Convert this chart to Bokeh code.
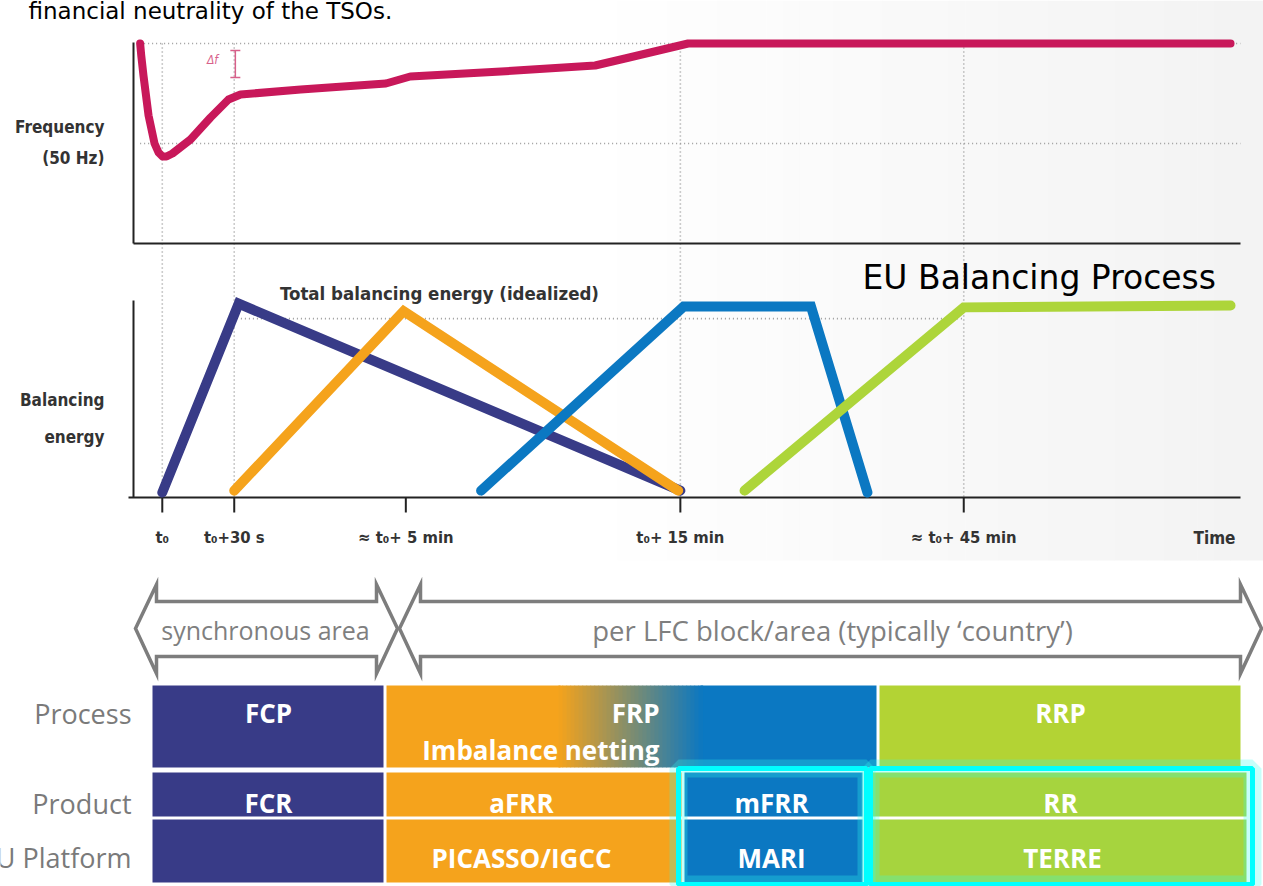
from bokeh.plotting import figure
from bokeh.models import Range1d
from bokeh.core.properties import value
from bokeh.embed import file_html
from bokeh.resources import INLINE
import numpy as np

# ---------------- data ----------------
# schematic time axis, in % of the axis length
tick_pos = [2.6, 9.1, 24.6, 49.4, 75.0]
tick_labels = ["t\u2080", "t\u2080+30 s", "\u2248 t\u2080+ 5 min", "t\u2080+ 15 min", "\u2248 t\u2080+ 45 min"]
grid_ticks = [2.6, 9.1, 49.4, 75.0]

# frequency (Hz)
freq_t = [0.6, 0.7, 0.9, 1.36, 1.9, 2.26, 2.62, 2.98, 3.52, 5.15, 6.96, 8.58, 9.67,
          15.1, 22.8, 25.0, 33.2, 41.7, 44.4, 50.1, 99.1]
freq_hz = [50.0, 49.976, 49.936, 49.856, 49.80, 49.782, 49.774, 49.774, 49.78, 49.808,
           49.852, 49.888, 49.898, 49.908, 49.92, 49.934, 49.944, 49.956, 49.97, 50.0, 50.0]
f_nominal = 50.0
f_min = 49.8

# balancing energy (% of total)
fcr_t = [2.6, 9.5, 49.4]
fcr_e = [0, 101, 1]
afrr_t = [9.1, 24.4, 49.2]
afrr_e = [1, 97, 1]
mfrr_t = [31.4, 49.7, 61.2, 66.3]
mfrr_e = [1, 99.5, 99.5, 0]
rr_t = [55.2, 75.0, 99.1]
rr_e = [1, 99, 100]
total_level = 93
total_span = [9.7, 75.0]

process_labels = ["FCP", "FRP", "Imbalance netting", "RRP"]
product_labels = ["FCR", "aFRR", "mFRR", "RR"]
platform_labels = ["", "PICASSO/IGCC", "MARI", "TERRE"]
row_labels = ["Process", "Product", "EU Platform"]

# ---------------- styles ----------------
NAVY = "#383b87"
ORANGE = "#f5a31c"
BLUE = "#0b78c2"
GREEN = "#b3d334"
CRIMSON = "#c8185a"
GREY = "#7f7f7f"
DARK = "#333333"
NARROW = value("DejaVu Sans Condensed, Liberation Sans, sans-serif")
OPEN = value("Open Sans")

W, H = 1263, 886
X0, X1 = 0, W
Y0, Y1 = H, 0


def lin_range(v1, p1, v2, p2, ps, pe):
    s = (v2 - v1) / (p2 - p1)
    return Range1d(start=v1 + (ps - p1) * s, end=v1 + (pe - p1) * s)


p = figure(width=W, height=H, x_range=Range1d(X0, X1), y_range=Range1d(Y0, Y1),
           output_backend="svg", toolbar_location=None, min_border=0,
           x_axis_type=None, y_axis_type=None, outline_line_color=None,
           background_fill_color="white")
p.grid.visible = False
p.extra_x_ranges = {"t": lin_range(0, 133, 100, 1240, X0, X1)}
p.extra_y_ranges = {"f": lin_range(50.0, 43, 49.8, 143, Y0, Y1),
                    "e": lin_range(0, 492, 100, 305, Y0, Y1)}

# subtle background shading of the chart area
n = 40
gx = np.linspace(600, W, n + 1)
gc = ["#%02x%02x%02x" % ((int(255 - 12 * i / n),) * 3) for i in range(n)]
p.quad(left=gx[:-1], right=gx[1:] + 0.5, top=0, bottom=560, fill_color=gc, line_color=None)

# title remnant (cut at the top edge, as in the source)
p.text(x=[28], y=[10], text=["financial neutrality of the TSOs."], text_font=value("DejaVu Sans"),
       text_font_size="23px", text_color="black", text_baseline="alphabetic")

# ---------------- frequency panel ----------------
dot = dict(line_color="#9a9a9a", line_dash="1 3", line_width=1.6)
p.segment(x0=grid_ticks, x1=grid_ticks, y0=43, y1=497, x_range_name="t", **dot)
p.segment(x0=[0.6, 0.6], x1=[100, 100], y0=[f_nominal, f_min], y1=[f_nominal, f_min],
          x_range_name="t", y_range_name="f", **dot)
p.segment(x0=[total_span[0]], x1=[total_span[1]], y0=[total_level], y1=[total_level],
          x_range_name="t", y_range_name="e", **dot)

# axes
ax = dict(line_color="#222222", line_width=2)
p.segment(x0=[133, 133, 133, 128], x1=[133, 1240, 133, 1240],
          y0=[42, 243, 300, 497], y1=[243, 243, 497, 497], **ax)
p.segment(x0=tick_pos, x1=tick_pos, y0=497, y1=512, x_range_name="t", **ax)

p.line(freq_t, freq_hz, x_range_name="t", y_range_name="f", line_color=CRIMSON,
       line_width=8, line_join="round", line_cap="round")

# delta f marker
p.segment(x0=[9.2, 8.75, 8.75], x1=[9.2, 9.65, 9.65], y0=[49.986, 49.986, 49.932],
          y1=[49.932, 49.986, 49.932], x_range_name="t", y_range_name="f",
          line_color="#d8608a", line_width=1.5)
p.text(x=[212], y=[59], text=["\u0394f"], text_font=NARROW, text_font_style="italic",
       text_font_size="12px", text_color="#d8608a", text_align="center", text_baseline="middle")

lab = dict(text_font=NARROW, text_font_style="bold", text_color=DARK, text_baseline="middle")
p.text(x=[104, 104], y=[126, 157], text=["Frequency", "(50 Hz)"], text_font_size="17px",
       text_align="right", **lab)

# ---------------- balancing panel ----------------
for tt, ee, c in [(fcr_t, fcr_e, NAVY), (afrr_t, afrr_e, ORANGE), (mfrr_t, mfrr_e, BLUE), (rr_t, rr_e, "#add53a")]:
    p.line(tt, ee, x_range_name="t", y_range_name="e", line_color=c, line_width=10,
           line_join="miter", line_cap="round")

p.text(x=[439], y=[293], text=["Total balancing energy (idealized)"], text_font_size="18.5px",
       text_align="center", **lab)
p.text(x=[104, 104], y=[399, 436], text=["Balancing", "energy"], text_font_size="17px",
       text_align="right", **lab)
p.text(x=tick_pos, y=[537] * len(tick_pos), text=tick_labels, x_range_name="t",
       text_font_size="16.5px", text_align="center", **lab)
p.text(x=[1235], y=[537], text=["Time"], text_font_size="17px", text_align="right", **lab)

p.text(x=[862], y=[277], text=["EU Balancing Process"], text_font=value("DejaVu Sans"),
       text_font_size="33px", text_color="black", text_align="left", text_baseline="middle")

# ---------------- scope arrows ----------------
def arrow(l, r, head=21):
    xs = [l, l + head, l + head, r - head, r - head, r, r - head, r - head, l + head, l + head]
    ys = [628, 584, 601, 601, 584, 628, 673, 656, 656, 673]
    return xs, ys

a1 = arrow(135, 397)
a2 = arrow(399, 1261)
p.patches(xs=[a1[0], a2[0]], ys=[a1[1], a2[1]], fill_color="white", line_color="#7d7d7d",
          line_width=3.5, line_join="miter")
p.text(x=[265], y=[629], text=["synchronous area"], text_font=OPEN, text_font_size="25px",
       text_color=GREY, text_align="center", text_baseline="middle")
p.text(x=[832], y=[630], text=["per LFC block/area (typically \u2018country\u2019)"], text_font=OPEN,
       text_font_size="27.5px", text_color=GREY, text_align="center", text_baseline="middle")

# ---------------- table ----------------
p.text(x=[131, 131, 131], y=[713, 803, 857], text=row_labels, text_font=OPEN,
       text_font_size="27px", text_color="#7a7a7a", text_align="right", text_baseline="middle")

# process row
p.quad(left=[152, 386, 700, 879], right=[383, 560, 876, 1240], top=685, bottom=767,
       fill_color=[NAVY, ORANGE, BLUE, GREEN], line_color=None)
ng = 36
gxs = np.linspace(558, 702, ng + 1)
c0 = np.array([245, 163, 28])
c1 = np.array([11, 120, 194])
gcols = []
for i in range(ng):
    f = (i + 0.5) / ng
    c = (c0 * (1 - f) + c1 * f).astype(int)
    gcols.append("#%02x%02x%02x" % tuple(c))
p.quad(left=gxs[:-1], right=gxs[1:] + 0.6, top=685, bottom=767, fill_color=gcols, line_color=None)

# product + platform rows
p.quad(left=[152, 386, 684, 872] * 2, right=[383, 681, 862, 1246] * 2,
       top=[772] * 4 + [819] * 4, bottom=[816] * 4 + [882] * 4,
       fill_color=[NAVY, ORANGE, BLUE, "#a6d43e"] * 2, line_color=None)

# highlight boxes
p.quad(left=[678, 870], right=[866, 1252], top=768, bottom=884, fill_color=None,
       line_color="#33ffee", line_alpha=0.28, line_width=18)
p.quad(left=[678, 870], right=[866, 1252], top=768, bottom=884, fill_color=None,
       line_color="#00ffff", line_width=5)

cell = dict(text_font=OPEN, text_font_style="bold", text_font_size="26px", text_color="white",
            text_baseline="middle")
p.text(x=[268, 659, 659, 1060], y=[712, 712, 749, 712], text=process_labels,
       text_align=["center", "right", "right", "center"], **cell)
p.text(x=[268, 521, 771, 1060], y=[802, 802, 802, 802], text=product_labels, text_align="center", **cell)
p.text(x=[268, 521, 771, 1062], y=[857, 857, 857, 857], text=platform_labels, text_align="center", **cell)

open("out.html", "w").write(file_html(p, INLINE))
